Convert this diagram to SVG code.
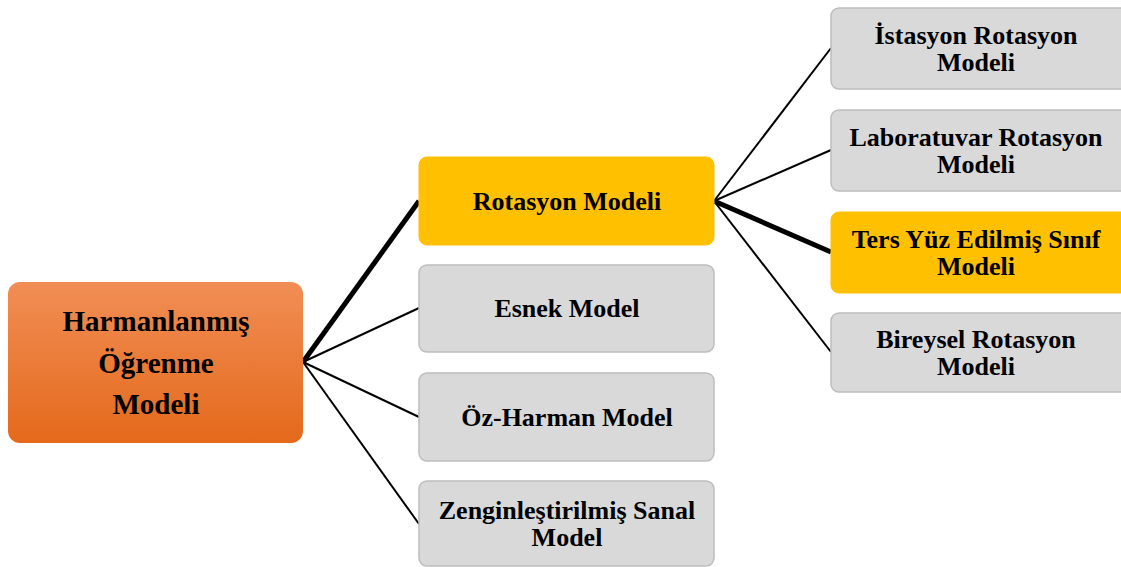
<svg xmlns="http://www.w3.org/2000/svg" width="1121" height="567" viewBox="0 0 1121 567">
<defs>
<linearGradient id="og" x1="0" y1="0" x2="0" y2="1">
<stop offset="0" stop-color="#F18E55"/>
<stop offset="1" stop-color="#E4691B"/>
</linearGradient>
<style>
.t{font-family:"Liberation Serif","Times New Roman",serif;font-weight:bold;font-size:26px;fill:#000;text-anchor:middle}
.tr{font-size:29px}
.g{fill:#D9D9D9;stroke:#BDBDBD;stroke-width:1.5}
.y{fill:#FFC000;stroke:#FFC000;stroke-width:1}
.c{stroke:#000;stroke-width:2;fill:none}
.ct{stroke:#000;stroke-width:5;fill:none}
</style>
</defs>
<rect width="1121" height="567" fill="#fff"/>
<g id="connectors">
<line class="ct" x1="303" y1="362" x2="419" y2="201"/>
<line class="c" x1="303" y1="362" x2="419" y2="308"/>
<line class="c" x1="303" y1="362" x2="419" y2="417"/>
<line class="c" x1="303" y1="362" x2="419" y2="524"/>
<line class="c" x1="714" y1="201" x2="831" y2="48"/>
<line class="c" x1="714" y1="201" x2="831" y2="150"/>
<line class="ct" x1="714" y1="201" x2="831" y2="252"/>
<line class="c" x1="714" y1="201" x2="831" y2="352"/>
</g>
<g id="root">
<rect x="8" y="282" width="295" height="161" rx="12" fill="url(#og)"/>
<text class="t tr" x="156" y="331">Harmanlanmış</text>
<text class="t tr" x="156" y="373">Öğrenme</text>
<text class="t tr" x="156" y="414">Modeli</text>
</g>
<g id="rotasyon">
<rect class="y" x="419" y="157" width="295" height="88" rx="8"/>
<text class="t" x="567" y="210">Rotasyon Modeli</text>
</g>
<g id="esnek">
<rect class="g" x="419" y="265" width="295" height="87" rx="8"/>
<text class="t" x="567" y="317">Esnek Model</text>
</g>
<g id="ozharman">
<rect class="g" x="419" y="373" width="295" height="88" rx="8"/>
<text class="t" x="567" y="426">Öz-Harman Model</text>
</g>
<g id="zengin">
<rect class="g" x="419" y="481" width="295" height="85" rx="8"/>
<text class="t" x="567" y="519">Zenginleştirilmiş Sanal</text>
<text class="t" x="567" y="546">Model</text>
</g>
<g id="istasyon">
<rect class="g" x="831" y="8" width="300" height="81" rx="8"/>
<text class="t" x="976" y="44">İstasyon Rotasyon</text>
<text class="t" x="976" y="71">Modeli</text>
</g>
<g id="laboratuvar">
<rect class="g" x="831" y="110" width="300" height="81" rx="8"/>
<text class="t" x="976" y="146">Laboratuvar Rotasyon</text>
<text class="t" x="976" y="173">Modeli</text>
</g>
<g id="tersyuz">
<rect class="y" x="831" y="212" width="300" height="81" rx="8"/>
<text class="t" x="976" y="248">Ters Yüz Edilmiş Sınıf</text>
<text class="t" x="976" y="275">Modeli</text>
</g>
<g id="bireysel">
<rect class="g" x="831" y="313" width="300" height="79" rx="8"/>
<text class="t" x="976" y="348">Bireysel Rotasyon</text>
<text class="t" x="976" y="375">Modeli</text>
</g>
</svg>
